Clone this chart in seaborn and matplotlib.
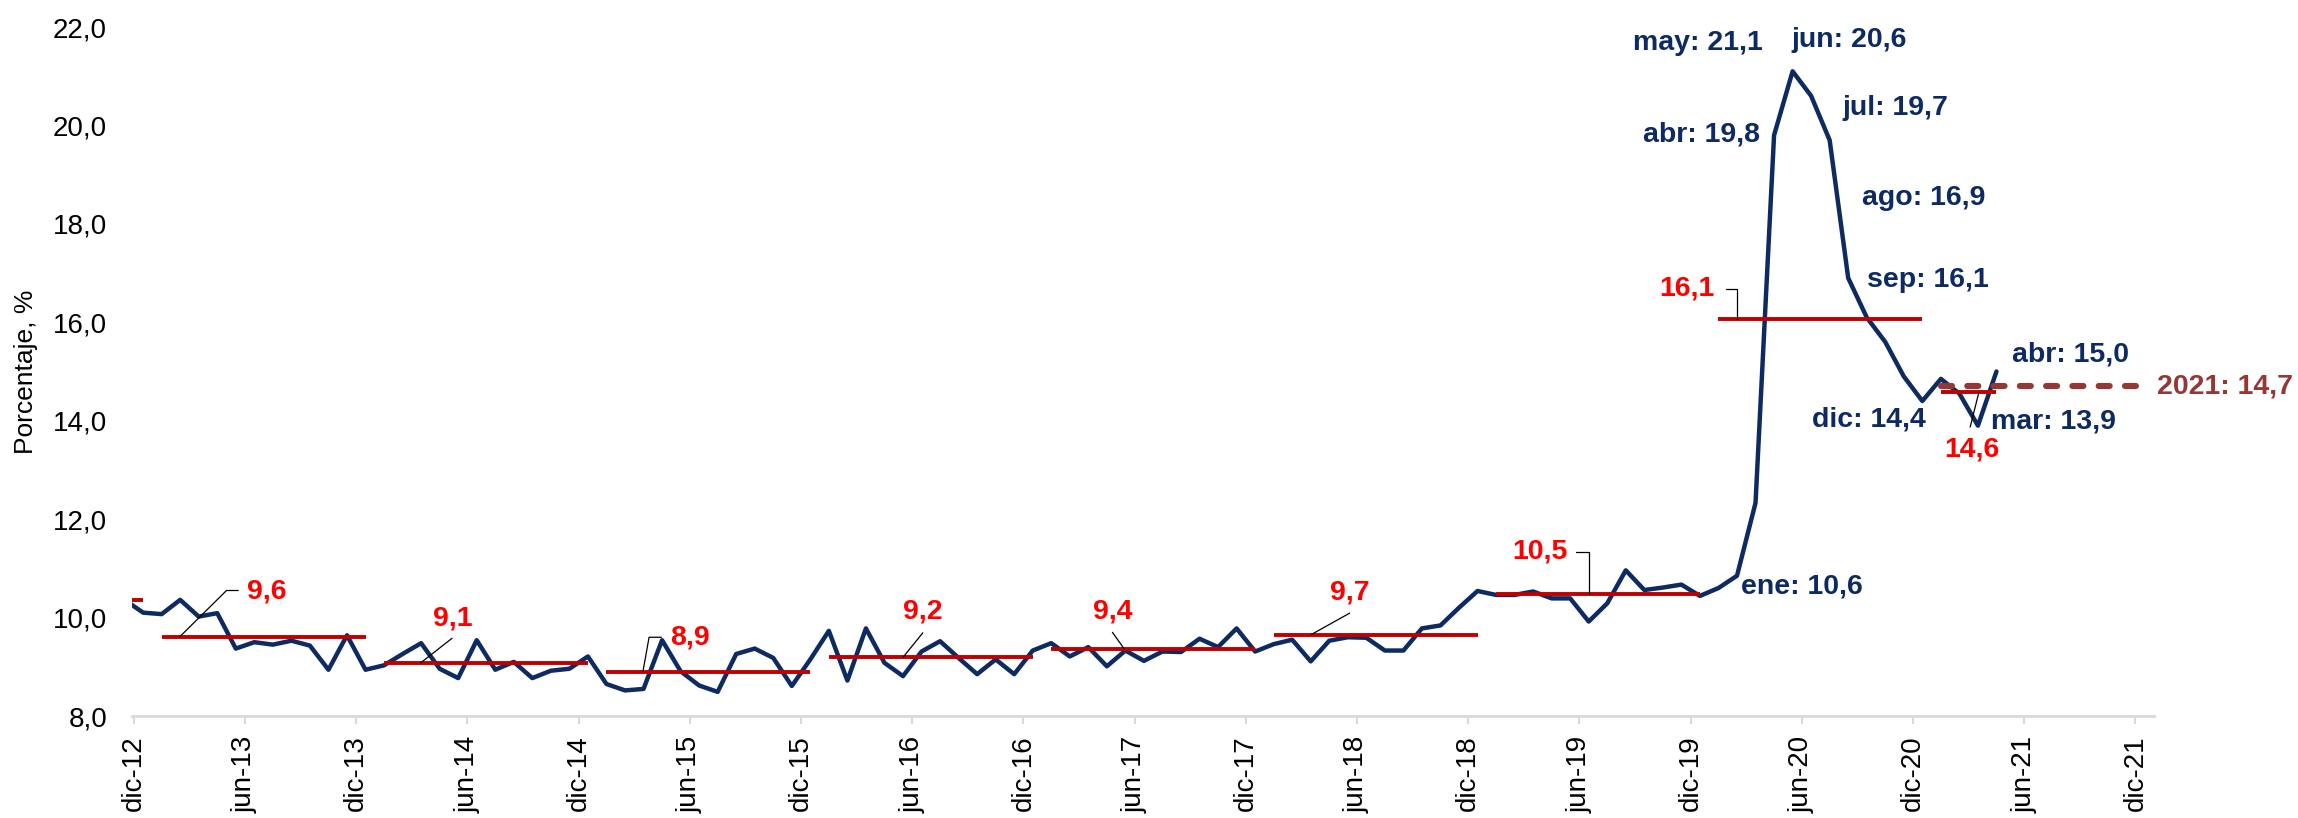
import numpy as np
import pandas as pd
import matplotlib
matplotlib.use("Agg")
import matplotlib.pyplot as plt
import seaborn as sns

# ---------------- data ----------------
# monthly rate, nov-12 .. abr-21
rate = [
    10.36,                                                                   # nov-12
    10.10,                                                                   # dic-12
    10.07, 10.36, 10.02, 10.09, 9.37, 9.50, 9.45, 9.53, 9.43, 8.94, 9.64, 8.94,   # 2013
    9.03, 9.26, 9.48, 8.96, 8.77, 9.54, 8.94, 9.10, 8.77, 8.92, 8.96, 9.21,       # 2014
    8.65, 8.52, 8.55, 9.54, 8.91, 8.62, 8.49, 9.26, 9.37, 9.18, 8.61, 9.15,       # 2015
    9.73, 8.72, 9.78, 9.08, 8.81, 9.31, 9.52, 9.18, 8.85, 9.15, 8.85, 9.33,       # 2016
    9.48, 9.21, 9.40, 9.01, 9.33, 9.12, 9.31, 9.30, 9.57, 9.40, 9.78, 9.31,       # 2017
    9.46, 9.55, 9.11, 9.53, 9.60, 9.59, 9.33, 9.33, 9.78, 9.84, 10.20, 10.54,     # 2018
    10.46, 10.46, 10.53, 10.39, 10.39, 9.92, 10.29, 10.96, 10.56, 10.61, 10.67, 10.44,  # 2019
    10.6, 10.85, 12.33, 19.8, 21.1, 20.6, 19.7, 16.9, 16.1, 15.6, 14.9, 14.4,    # 2020
    14.85, 14.55, 13.9, 15.0,                                                # 2021
]
month_abbr = ["ene", "feb", "mar", "abr", "may", "jun",
              "jul", "ago", "sep", "oct", "nov", "dic"]
tick_labels = ["dic-12", "jun-13", "dic-13", "jun-14", "dic-14", "jun-15", "dic-15",
               "jun-16", "dic-16", "jun-17", "dic-17", "jun-18", "dic-18", "jun-19",
               "dic-19", "jun-20", "dic-20", "jun-21", "dic-21"]
avg_years = [2013, 2014, 2015, 2016, 2017, 2018, 2019, 2020, 2021]
avg_2012 = 10.36
proj_2021 = 14.7
y_ticks = [8, 10, 12, 14, 16, 18, 20, 22]
# months highlighted with a label (year, month)
highlight = [(2020, 1), (2020, 4), (2020, 5), (2020, 6), (2020, 7), (2020, 8),
             (2020, 9), (2020, 12), (2021, 3), (2021, 4)]

# ---------------- helpers ----------------
start_year, start_month = 2012, 11          # first value
def idx(y, m):                               # index in rate list
    return (y - start_year) * 12 + (m - start_month)
def pos(y, m):                               # x position: dic-12 tick = 0, centered in month
    return (y - 2012) * 12 + (m - 12) + 0.5

xs = np.array([pos(start_year, start_month) + k for k in range(len(rate))])
df = pd.DataFrame({"x": xs, "rate": rate})

fmt = lambda v: f"{v:.1f}".replace(".", ",")

navy = "#0d2b62"
red_line = "#c00000"
red_txt = "#ff0000"
brown = "#953735"

sns.set_theme(style="white")
plt.rcParams["font.family"] = ["Liberation Sans", "DejaVu Sans"]

fig = plt.figure(figsize=(22.98, 8.18), dpi=100)
ax = fig.add_axes([132 / 2298, 1 - 716 / 818, (2154 - 132) / 2298, (716 - 27) / 818])

sns.lineplot(data=df, x="x", y="rate", color=navy, linewidth=3.2, ax=ax,
             sort=True, estimator=None, zorder=3)

# yearly averages
ax.hlines(avg_2012, pos(2012, 1), pos(2012, 12), color=red_line, lw=2.8, zorder=4)
avg_vals = {}
for yr in avg_years:
    i0 = idx(yr, 1)
    i1 = min(idx(yr, 12), len(rate) - 1)
    v = float(np.mean(rate[i0:i1 + 1]))
    avg_vals[yr] = v
    ax.hlines(v, xs[i0], xs[i1], color=red_line, lw=2.8, zorder=4)

# 2021 projection dashed
ax.plot([pos(2021, 1), pos(2021, 12)], [proj_2021, proj_2021], color=brown, lw=4.4,
        linestyle=(0, (1.8, 2.5)), dash_capstyle="round", zorder=5)
ax.text(109.15, proj_2021, f"2021: {fmt(proj_2021)}", color=brown, fontsize=20.5,
        fontweight="bold", ha="left", va="center", clip_on=False)

# average labels with leader lines (layout)
avg_layout = {
    2013: dict(txt=(6.10, 10.52), lead=[(2.48, None), (5.0, 10.55), (5.63, 10.55)]),
    2014: dict(txt=(16.13, 9.99), lead=[(15.47, None), (17.17, 9.58)]),
    2015: dict(txt=(28.92, 9.59), lead=[(27.47, None), (27.8, 9.60), (28.46, 9.60)]),
    2016: dict(txt=(41.48, 10.12), lead=[(41.5, None), (42.57, 9.69)]),
    2017: dict(txt=(51.73, 10.12), lead=[(53.46, None), (52.8, 9.70)]),
    2018: dict(txt=(64.52, 10.51), lead=[(63.53, None), (65.6, 10.09)]),
    2019: dict(txt=(74.39, 11.34), lead=[(78.49, None), (78.49, 11.34), (77.84, 11.34)]),
    2020: dict(txt=(82.32, 16.68), lead=[(86.5, None), (86.5, 16.68), (85.88, 16.68)]),
    2021: dict(txt=(97.7, 13.41), lead=[(99.55, None), (99.08, 13.87)]),
}
for yr, lay in avg_layout.items():
    v = avg_vals[yr]
    px = [p[0] for p in lay["lead"]]
    py = [v if p[1] is None else p[1] for p in lay["lead"]]
    ax.plot(px, py, color="black", lw=0.9, zorder=6)
    ax.text(lay["txt"][0], lay["txt"][1], fmt(v), color=red_txt, fontsize=20.5,
            fontweight="bold", ha="left", va="center", zorder=7)

# month value labels (layout)
lab_layout = {
    (2020, 1): (86.73, 10.63, "left"),
    (2020, 4): (87.72, 19.81, "right"),
    (2020, 5): (87.88, 21.68, "right"),
    (2020, 6): (89.44, 21.74, "left"),
    (2020, 7): (92.19, 20.36, "left"),
    (2020, 8): (93.22, 18.53, "left"),
    (2020, 9): (93.54, 16.86, "left"),
    (2020, 12): (96.67, 14.02, "right"),
    (2021, 3): (100.22, 13.98, "left"),
    (2021, 4): (101.35, 15.34, "left"),
}
for (yr, m) in highlight:
    v = rate[idx(yr, m)]
    x, y, ha = lab_layout[(yr, m)]
    ax.text(x, y, f"{month_abbr[m - 1]}: {fmt(v)}", color=navy, fontsize=20.5,
            fontweight="bold", ha=ha, va="center", zorder=7)

# axes styling
ax.set_xlim(-0.1, 109.0)
ax.set_ylim(8, 22)
ax.set_xticks(np.arange(0, 6 * len(tick_labels), 6))
ax.set_xticklabels(tick_labels, rotation=90, fontsize=20, color="black")
ax.set_yticks(y_ticks)
ax.set_yticklabels([f"{t:.1f}".replace(".", ",") for t in y_ticks], fontsize=20,
                   color="black")
ax.tick_params(axis="x", length=6, width=1.5, color="#d9d9d9", pad=8, bottom=True)
ax.tick_params(axis="y", length=0, pad=18)
for s in ["top", "right", "left"]:
    ax.spines[s].set_visible(False)
ax.spines["bottom"].set_color("#d9d9d9")
ax.spines["bottom"].set_linewidth(2)
ax.set_xlabel("")
ax.set_ylabel("")
ax.grid(False)
fig.text(26 / 2298, 1 - 371.5 / 818, "Porcentaje, %", rotation=90, ha="center",
         va="center", fontsize=19, color="black")

fig.savefig("out.png", dpi=100)
